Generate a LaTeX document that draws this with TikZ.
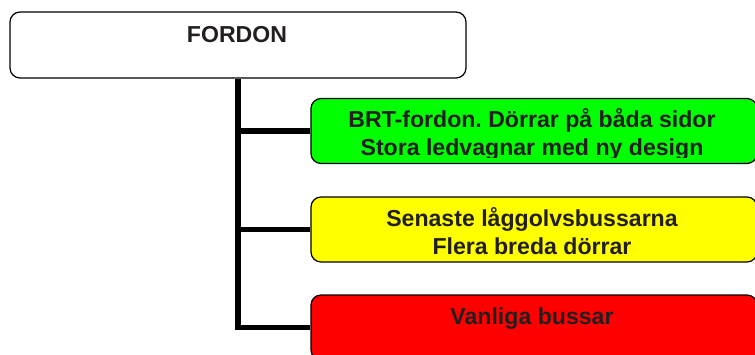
\documentclass[tikz,border=0pt]{standalone}
\usepackage{fontspec}
\setmainfont{Liberation Sans}
\frenchspacing
\definecolor{ink}{HTML}{231F20}
\begin{document}
\begin{tikzpicture}[x=1pt,y=-1pt,
  box/.style={draw=black, line width=1.2pt, rounded corners=10pt, minimum width=446pt, minimum height=65pt, inner sep=0pt},
  txt/.style={font=\fontsize{23.1}{27.5}\selectfont\bfseries, text=ink, align=center, inner sep=0pt},
  conn/.style={draw=black, line width=5.5pt}]
\useasboundingbox (0,0) rectangle (755,354);
% top box
\node[draw=black, line width=1.2pt, rounded corners=10pt, minimum width=456pt, minimum height=66pt, inner sep=0pt, fill=white] (fordon) at (238,45) {};
\node[txt, anchor=base] (fordontxt) at (237,42) {FORDON};
% child boxes
\node[box, fill={rgb,255:red,0;green,255;blue,0}] (green) at (534,131) {};
\node[box, fill={rgb,255:red,255;green,255;blue,0}] (yellow) at (534,229.5) {};
\node[box, fill={rgb,255:red,255;green,0;blue,0}] (red) at (534,327.5) {};
% connectors
\draw[conn] (fordon.south) |- (red.west);
\draw[conn] (fordon.south |- green.west) -- (green.west);
\draw[conn] (fordon.south |- yellow.west) -- (yellow.west);
% texts; the green text area is cut off just below its second line
\begin{scope}
\clip (green.north west) rectangle (green.east |- 0,157);
\node[txt, anchor=base] (greentxt) at (532,155.2) {BRT-fordon. Dörrar på båda sidor\\Stora ledvagnar med ny design};
\end{scope}
\node[txt, anchor=base] (yellowtxt) at (532,254.2) {Senaste låggolvsbussarna\\Flera breda dörrar};
\node[txt, anchor=base] (redtxt) at (532,324) {Vanliga bussar};
\end{tikzpicture}
\end{document}
